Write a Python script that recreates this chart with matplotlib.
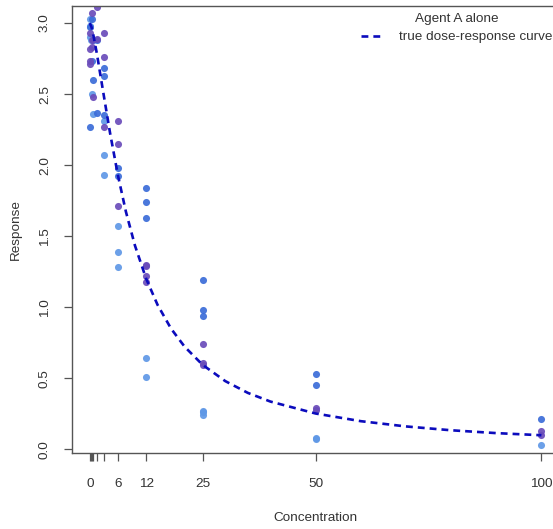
import numpy as np
import matplotlib
matplotlib.use("Agg")
import matplotlib.pyplot as plt

plt.rcParams['font.family'] = ['Liberation Sans', 'DejaVu Sans']

# observed responses, one set per replicate colour
light_conc = [0, 0, 0, 0.195, 0.39, 0.78, 3.125, 3.125, 3.125,
              6.25, 6.25, 6.25, 12.5, 12.5, 25, 25, 25, 50, 50, 100]
light_resp = [3.03, 2.98, 2.90, 2.88, 2.50, 2.36, 2.31, 2.07, 1.93,
              1.57, 1.39, 1.28, 0.64, 0.51, 0.27, 0.26, 0.24, 0.08, 0.07, 0.03]

mid_conc = [0, 0, 0.39, 0.39, 0.78, 0.78, 1.5625, 1.5625, 3.125, 3.125, 3.125,
            6.25, 6.25, 12.5, 12.5, 12.5, 25, 25, 25, 50, 50, 100]
mid_resp = [2.27, 2.97, 3.03, 2.73, 2.60, 2.88, 2.37, 2.88, 2.68, 2.63, 2.35,
            1.98, 1.92, 1.84, 1.74, 1.63, 1.19, 0.98, 0.94, 0.53, 0.45, 0.21]

purple_conc = [0, 0, 0, 0, 0.39, 0.39, 0.39, 0.78, 1.5625, 1.5625,
               3.125, 3.125, 3.125, 6.25, 6.25, 6.25, 12.5, 12.5, 12.5, 12.5,
               25, 25, 25, 50, 50, 100, 100]
purple_resp = [2.73, 2.71, 2.93, 2.82, 3.07, 2.83, 2.88, 2.48, 3.11, 2.89,
               2.93, 2.76, 2.27, 2.31, 2.15, 1.71, 1.30, 1.29, 1.22, 1.18,
               0.74, 0.61, 0.59, 0.29, 0.28, 0.13, 0.10]

# true dose-response curve
curve_conc = [0, 0.39, 0.78, 1.56, 3.125, 4.5, 6.25, 8, 10, 12.5, 15, 18, 21,
              25, 30, 35, 40, 50, 60, 70, 80, 90, 100]
curve_resp = [3.00, 2.97, 2.917, 2.786, 2.485, 2.224, 1.925, 1.672, 1.434,
              1.199, 1.017, 0.849, 0.722, 0.594, 0.480, 0.397, 0.336, 0.252,
              0.198, 0.161, 0.134, 0.114, 0.099]

major_ticks = [0, 6.25, 12.5, 25, 50, 100]
major_labels = ['0', '6', '12', '25', '50', '100']
minor_ticks = [0.195, 0.39, 0.78, 1.5625, 3.125]
y_ticks = [0.0, 0.5, 1.0, 1.5, 2.0, 2.5, 3.0]

fs = 9.7

fig = plt.figure(figsize=(5.53, 5.29), dpi=100)
ax = fig.add_axes([0.1297, 0.1442, 0.882, 0.8445])

pt_style = dict(s=26, linewidths=0, alpha=0.92, zorder=2)
ax.scatter(light_conc, light_resp, color='#5f98e6', **pt_style)
ax.scatter(mid_conc, mid_resp, color='#3b6cd8', **pt_style)
ax.scatter(purple_conc, purple_resp, color='#6a4cba', **pt_style)

line, = ax.plot(curve_conc, curve_resp, color='#0b0bbd', lw=1.9,
                label='true dose-response curve', zorder=3)
line.set_dashes([2.6, 1.9])

ax.set_xlim(-4, 104)
ax.set_ylim(-0.024, 3.12)

axis_col = '#555555'
text_col = '#333333'
for side in ['left', 'bottom', 'top']:
    ax.spines[side].set_color(axis_col)
    ax.spines[side].set_linewidth(1.0)
ax.spines['right'].set_visible(False)

ax.set_xticks(major_ticks)
ax.set_xticklabels(major_labels)
ax.set_xticks(minor_ticks, minor=True)
ax.set_yticks(y_ticks)
ax.set_yticklabels([f'{v:.1f}' for v in y_ticks], rotation=90, va='center')

ax.tick_params(axis='both', which='both', direction='out', length=6,
               width=0.9, color=axis_col, labelcolor=text_col, labelsize=fs)
ax.tick_params(axis='x', which='major', pad=12)
ax.tick_params(axis='y', which='major', pad=9)

ax.set_xlabel('Concentration', fontsize=fs, color=text_col, labelpad=16)
ax.set_ylabel('Response', fontsize=fs, color=text_col, labelpad=12)

leg = ax.legend(handles=[line], title='Agent A alone', frameon=False,
                loc='upper left', bbox_to_anchor=(352 / 553, 1 - 4 / 529),
                bbox_transform=fig.transFigure, fontsize=fs,
                title_fontsize=fs, handlelength=1.5, handletextpad=1.3,
                borderpad=0.2, labelspacing=0.4)
for t in leg.get_texts():
    t.set_color(text_col)
leg.get_title().set_color(text_col)

fig.savefig('out.png', dpi=100)
